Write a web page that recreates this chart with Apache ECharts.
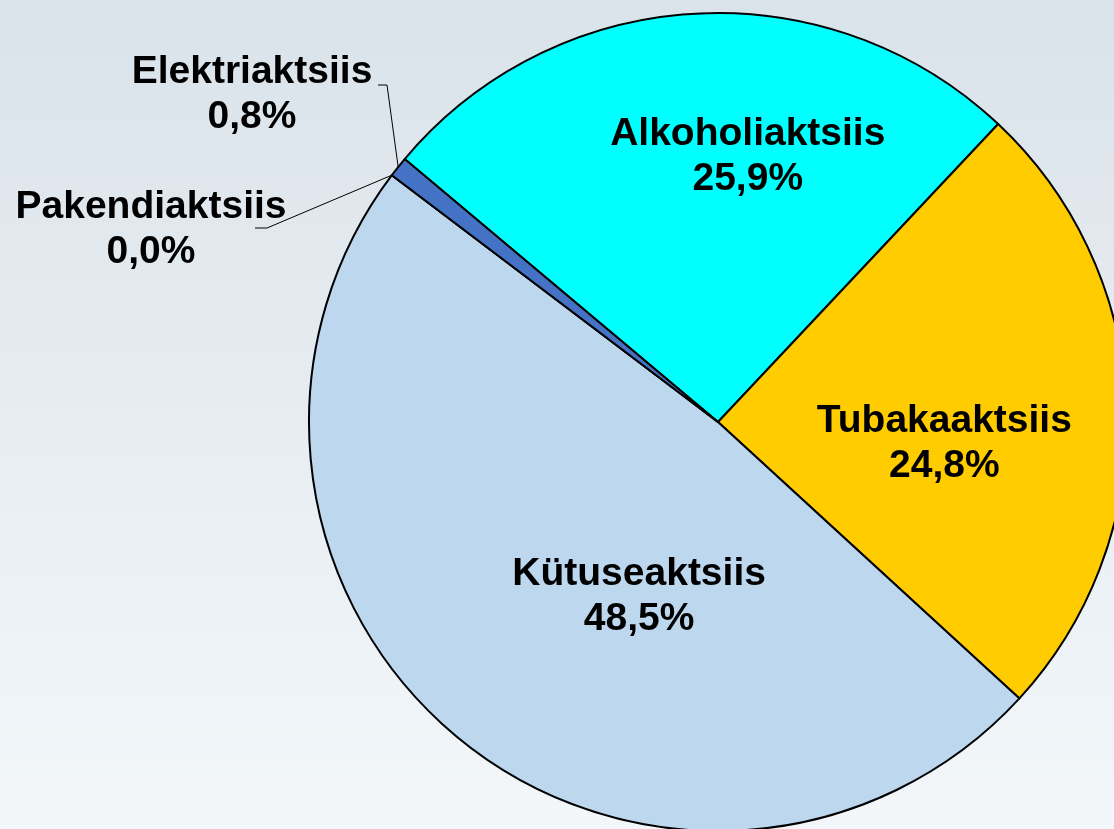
<!DOCTYPE html>
<html>
<head>
<meta charset="utf-8">
<style>
  html, body { margin: 0; padding: 0; }
  #main { width: 1114px; height: 829px; }
</style>
<script src="https://cdn.jsdelivr.net/npm/echarts@6/dist/echarts.min.js"></script>
</head>
<body>
<div id="main"></div>
<script>
// andmed (clockwise from the top-left)
var names = ['Alkoholiaktsiis', 'Tubakaaktsiis', 'Kütuseaktsiis', 'Pakendiaktsiis', 'Elektriaktsiis'];
var shares = [25.9, 24.8, 48.5, 0.0, 0.8];
var colors = ['#00ffff', '#ffcc00', '#bdd7ee', '#a6a6a6', '#4472c4'];

// label placement, not data
var insideOffsets = {
  'Alkoholiaktsiis': [42, -58],
  'Tubakaaktsiis': [19, 29],
  'Kütuseaktsiis': [54, 15]
};
var outsideLabels = {
  'Elektriaktsiis': { x: 252, y: 95, line: [[387, 85], [378, 85]] },
  'Pakendiaktsiis': { x: 151, y: 230, line: [[267, 228], [255, 228]] }
};

function pct(v) {
  return v.toFixed(1).replace('.', ',') + '%';
}

var pieData = [];
for (var i = 0; i < names.length; i++) {
  var item = {
    name: names[i],
    value: shares[i],
    itemStyle: { color: colors[i] }
  };
  if (insideOffsets[names[i]]) {
    item.label = { position: 'inside', offset: insideOffsets[names[i]] };
    item.labelLine = { show: false };
  } else {
    item.label = { position: 'outside' };
    item.labelLine = { show: true, length: 10, length2: 10 };
  }
  pieData.push(item);
}

var chart = echarts.init(document.getElementById('main'));
chart.setOption({
  backgroundColor: {
    type: 'linear', x: 0, y: 0, x2: 0, y2: 1,
    colorStops: [
      { offset: 0, color: '#dae3ea' },
      { offset: 1, color: '#f3f7fa' }
    ]
  },
  animation: false,
  series: [{
    type: 'pie',
    center: [718, 422],
    radius: 409,
    startAngle: 140,
    clockwise: true,
    avoidLabelOverlap: false,
    emphasis: { disabled: true },
    itemStyle: { borderColor: '#000', borderWidth: 2 },
    label: {
      show: true,
      color: '#000',
      fontFamily: 'Liberation Sans, Arial, sans-serif',
      fontWeight: 'bold',
      fontSize: 39,
      lineHeight: 45,
      align: 'center',
      formatter: function (p) {
        return p.name + '\n' + pct(p.value);
      }
    },
    labelLine: {
      lineStyle: { color: '#000', width: 1 }
    },
    labelLayout: function (params) {
      var o = outsideLabels[names[params.dataIndex]];
      if (!o) return {};
      var pts = params.labelLinePoints;
      return {
        x: o.x,
        y: o.y,
        align: 'center',
        verticalAlign: 'middle',
        labelLinePoints: [pts[0], o.line[0], o.line[1]]
      };
    },
    data: pieData
  }]
});
</script>
</body>
</html>
